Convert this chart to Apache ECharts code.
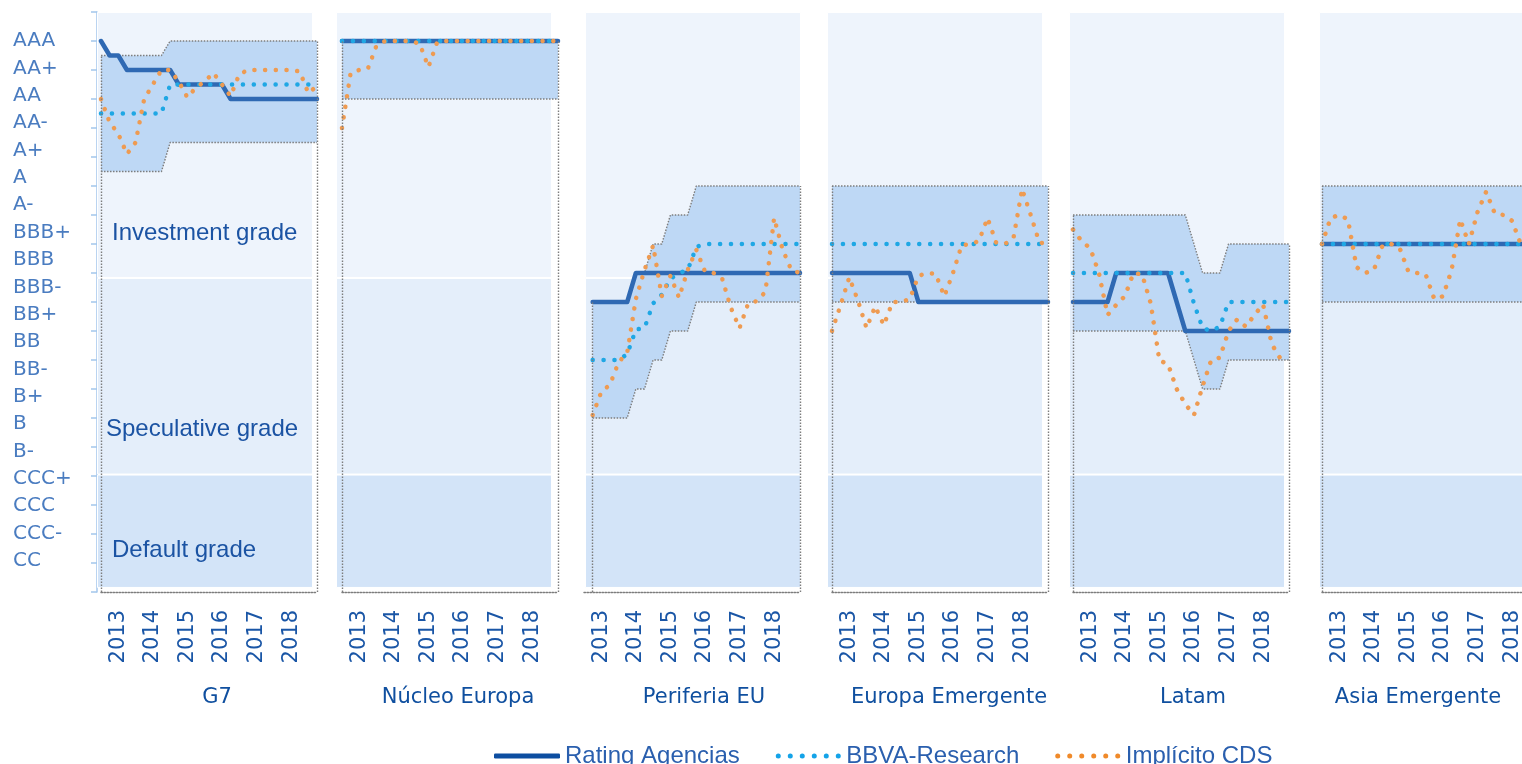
<!DOCTYPE html>
<html>
<head>
<meta charset="utf-8">
<script src="https://cdn.jsdelivr.net/npm/echarts@6/dist/echarts.min.js"></script>
<style>
html, body { margin: 0; padding: 0; background: #fff; }
#chart { width: 1522px; height: 764px; }
</style>
</head>
<body>
<div id="chart"></div>
<script>
// escala de rating (AAA arriba) y trimestres
const ratingLabels = ['AAA', 'AA+', 'AA', 'AA-', 'A+', 'A', 'A-', 'BBB+', 'BBB', 'BBB-', 'BB+', 'BB', 'BB-', 'B+', 'B', 'B-', 'CCC+', 'CCC', 'CCC-', 'CC'];
const quarters = ['2012Q3', '2012Q4',
  '2013Q1', '2013Q2', '2013Q3', '2013Q4', '2014Q1', '2014Q2', '2014Q3', '2014Q4',
  '2015Q1', '2015Q2', '2015Q3', '2015Q4', '2016Q1', '2016Q2', '2016Q3', '2016Q4',
  '2017Q1', '2017Q2', '2017Q3', '2017Q4', '2018Q1', '2018Q2', '2018Q3', '2018Q4'];
const panelNames = ['G7', 'Núcleo Europa', 'Periferia EU', 'Europa Emergente', 'Latam', 'Asia Emergente'];

// zonas de fondo: default / speculative / investment (en escala 0-20)
const zoneEdges = [0.14, 4.05, 10.83, 20];
const zoneColors = ['#d3e4f8', '#e4eefa', '#eef4fc'];

// G7
const g7Rating = [19, 18.5, 18.5, 18, 18, 18, 18, 18, 18, 17.5, 17.5, 17.5, 17.5, 17.5, 17.5, 17, 17, 17, 17, 17, 17, 17, 17, 17, 17, 17];
const g7Bbva = [16.5, 16.5, 16.5, 16.5, 16.5, 16.5, 16.5, 16.5, 17.5, 17.5, 17.5, 17.5, 17.5, 17.5, 17.5, 17.5, 17.5, 17.5, 17.5, 17.5, 17.5, 17.5, 17.5, 17.5, 17.5, 17.5];
const g7Cds = [17.0, 16.2, 15.8, 15.1, 15.5, 17.0, 17.5, 18.0, 18.0, 17.6, 17.05, 17.4, 17.6, 17.9, 17.5, 17.1, 17.85, 18.0, 18.0, 18.0, 18.0, 18.0, 18.0, 17.95, 17.2, 17.45];
const g7Min = [14.5, 14.5, 14.5, 14.5, 14.5, 14.5, 14.5, 14.5, 15.5, 15.5, 15.5, 15.5, 15.5, 15.5, 15.5, 15.5, 15.5, 15.5, 15.5, 15.5, 15.5, 15.5, 15.5, 15.5, 15.5, 15.5];
const g7Max = [18.5, 18.5, 18.5, 18.5, 18.5, 18.5, 18.5, 18.5, 19, 19, 19, 19, 19, 19, 19, 19, 19, 19, 19, 19, 19, 19, 19, 19, 19, 19];

// Núcleo Europa
const neRating = [19, 19, 19, 19, 19, 19, 19, 19, 19, 19, 19, 19, 19, 19, 19, 19, 19, 19, 19, 19, 19, 19, 19, 19, 19, 19];
const neBbva = [19, 19, 19, 19, 19, 19, 19, 19, 19, 19, 19, 19, 19, 19, 19, 19, 19, 19, 19, 19, 19, 19, 19, 19, 19, 19];
const neCds = [16.0, 17.9, 18.0, 18.05, 18.85, 19, 19, 19, 19, 18.9, 18.1, 18.95, 19, 19, 19, 19, 19, 19, 19, 19, 19, 19, 19, 19, 19, 19];
const neMin = [17, 17, 17, 17, 17, 17, 17, 17, 17, 17, 17, 17, 17, 17, 17, 17, 17, 17, 17, 17, 17, 17, 17, 17, 17, 17];
const neMax = [19, 19, 19, 19, 19, 19, 19, 19, 19, 19, 19, 19, 19, 19, 19, 19, 19, 19, 19, 19, 19, 19, 19, 19, 19, 19];

// Periferia EU (empieza un trimestre más tarde)
const peRating = ['-', 10, 10, 10, 10, 10, 11, 11, 11, 11, 11, 11, 11, 11, 11, 11, 11, 11, 11, 11, 11, 11, 11, 11, 11, 11];
const peBbva = ['-', 8, 8, 8, 8, 8.2, 9.05, 9.1, 9.95, 10.25, 10.8, 11.0, 11.1, 11.9, 12, 12, 12, 12, 12, 12, 12, 12, 12, 12, 12, 12];
const peCds = ['-', 6.1, 6.9, 7.15, 7.92, 8.25, 10.1, 11.1, 11.95, 10.2, 10.9, 10.15, 11.1, 11.8, 11.05, 11.0, 10.8, 9.8, 9.1, 9.95, 10.03, 10.35, 12.9, 11.8, 11.1, 11.0];
const peMin = ['-', 6, 6, 6, 6, 6, 7, 7, 8, 8, 9, 9, 9, 10, 10, 10, 10, 10, 10, 10, 10, 10, 10, 10, 10, 10];
const peMax = ['-', 10, 10, 10, 10, 10, 11, 11, 12, 12, 13, 13, 13, 14, 14, 14, 14, 14, 14, 14, 14, 14, 14, 14, 14, 14];

// Europa Emergente
const eeRating = [11, 11, 11, 11, 11, 11, 11, 11, 11, 11, 10, 10, 10, 10, 10, 10, 10, 10, 10, 10, 10, 10, 10, 10, 10, 10];
const eeBbva = [12, 12, 12, 12, 12, 12, 12, 12, 12, 12, 12, 12, 12, 12, 12, 12, 12, 12, 12, 12, 12, 12, 12, 12, 12, 12];
const eeCds = [9.0, 9.9, 10.85, 10.05, 9.1, 9.85, 9.2, 10.0, 10.0, 10.1, 10.9, 11.0, 10.97, 10.2, 11.0, 11.95, 12.0, 12.1, 12.9, 12.05, 12.0, 12.2, 13.9, 13.0, 12.05, 12.0];
const eeMin = [10, 10, 10, 10, 10, 10, 10, 10, 10, 10, 10, 10, 10, 10, 10, 10, 10, 10, 10, 10, 10, 10, 10, 10, 10, 10];
const eeMax = [14, 14, 14, 14, 14, 14, 14, 14, 14, 14, 14, 14, 14, 14, 14, 14, 14, 14, 14, 14, 14, 14, 14, 14, 14, 14];

// Latam
const laRating = [10, 10, 10, 10, 10, 11, 11, 11, 11, 11, 11, 11, 10, 9, 9, 9, 9, 9, 9, 9, 9, 9, 9, 9, 9, 9];
const laBbva = [11, 11, 11, 11, 11, 11, 11, 11, 11, 11, 11, 11, 11, 11, 9.95, 9.1, 9.0, 9.15, 10, 10, 10, 10, 10, 10, 10, 10];
const laCds = [12.5, 12.1, 11.85, 11.0, 9.55, 9.9, 10.2, 11.0, 10.95, 9.95, 7.98, 7.86, 7.0, 6.48, 6.1, 7.1, 8.0, 8.08, 9.0, 9.4, 9.15, 9.55, 9.92, 8.55, 8.05, 7.98];
const laMin = [9, 9, 9, 9, 9, 9, 9, 9, 9, 9, 9, 9, 9, 9, 8, 7, 7, 7, 8, 8, 8, 8, 8, 8, 8, 8];
const laMax = [13, 13, 13, 13, 13, 13, 13, 13, 13, 13, 13, 13, 13, 13, 12, 11, 11, 11, 12, 12, 12, 12, 12, 12, 12, 12];

// Asia Emergente
const aeRating = [12, 12, 12, 12, 12, 12, 12, 12, 12, 12, 12, 12, 12, 12, 12, 12, 12, 12, 12, 12, 12, 12, 12, 12, 12, 12];
const aeBbva = [12, 12, 12, 12, 12, 12, 12, 12, 12, 12, 12, 12, 12, 12, 12, 12, 12, 12, 12, 12, 12, 12, 12, 12, 12, 12];
const aeCds = [12.0, 12.9, 13.0, 12.85, 11.2, 11.0, 11.1, 11.95, 12.0, 11.85, 11.05, 11.0, 10.95, 10.1, 10.2, 11.1, 12.85, 12.0, 13.1, 13.8, 13.05, 13.0, 12.8, 12.0, 12.0, 12.0];
const aeMin = [10, 10, 10, 10, 10, 10, 10, 10, 10, 10, 10, 10, 10, 10, 10, 10, 10, 10, 10, 10, 10, 10, 10, 10, 10, 10];
const aeMax = [14, 14, 14, 14, 14, 14, 14, 14, 14, 14, 14, 14, 14, 14, 14, 14, 14, 14, 14, 14, 14, 14, 14, 14, 14, 14];

const panels = [
  { rating: g7Rating, bbva: g7Bbva, cds: g7Cds, min: g7Min, max: g7Max },
  { rating: neRating, bbva: neBbva, cds: neCds, min: neMin, max: neMax },
  { rating: peRating, bbva: peBbva, cds: peCds, min: peMin, max: peMax },
  { rating: eeRating, bbva: eeBbva, cds: eeCds, min: eeMin, max: eeMax },
  { rating: laRating, bbva: laBbva, cds: laCds, min: laMin, max: laMax },
  { rating: aeRating, bbva: aeBbva, cds: aeCds, min: aeMin, max: aeMax }
];

// layout
const gridLeft = [101, 342, 584, 832, 1073, 1322];
const bgLeft = [97, 336, 585, 827, 1069, 1319];
const titleX = [217, 458, 704, 949, 1193, 1418];
const PLOT_TOP = 12;
const PLOT_H = 580;
const PLOT_W = 216;

const RATING_COLOR = '#2f69b3';
const BBVA_COLOR = '#1fa7e4';
const CDS_COLOR = '#ee9b52';
const dotted = { color: '#7d7d7d', width: 1.4, type: [1.5, 1.5] };
const labelBlue = '#1a56a6';
// iconos de leyenda: barra gruesa y seis puntos
const dotsIcon = 'path://M0,2.5a2.5,2.5 0 1,0 5,0a2.5,2.5 0 1,0 -5,0M12,2.5a2.5,2.5 0 1,0 5,0a2.5,2.5 0 1,0 -5,0M24,2.5a2.5,2.5 0 1,0 5,0a2.5,2.5 0 1,0 -5,0M36,2.5a2.5,2.5 0 1,0 5,0a2.5,2.5 0 1,0 -5,0M48,2.5a2.5,2.5 0 1,0 5,0a2.5,2.5 0 1,0 -5,0M60,2.5a2.5,2.5 0 1,0 5,0a2.5,2.5 0 1,0 -5,0';

const grids = [{ left: 13, top: 41, width: 10, height: 520, outerBoundsMode: 'none' }];
const xAxes = [{ gridIndex: 0, type: 'value', show: false }];
const yAxes = [{
  gridIndex: 0, type: 'category', data: ratingLabels, inverse: true, boundaryGap: false,
  axisLine: { show: false }, axisTick: { show: false }, splitLine: { show: false },
  axisLabel: { align: 'left', margin: 0, color: '#4a7cc0', fontSize: 20, fontFamily: 'DejaVu Sans' }
}];
const series = [];

// fondos por panel (barras apiladas)
panels.forEach((p, i) => {
  const gi = grids.length;
  grids.push({ left: bgLeft[i], top: PLOT_TOP, width: PLOT_W, height: PLOT_H, outerBoundsMode: 'none' });
  xAxes.push({ gridIndex: gi, type: 'category', data: [''], show: false });
  yAxes.push({ gridIndex: gi, type: 'value', min: 0, max: 20, show: false });
  series.push({
    type: 'bar', xAxisIndex: gi, yAxisIndex: gi, stack: 'zone' + i, barWidth: '100%', silent: true,
    data: [zoneEdges[0]], itemStyle: { color: 'rgba(0,0,0,0)' }
  });
  for (let z = 1; z < zoneEdges.length; z++) {
    series.push({
      type: 'bar', xAxisIndex: gi, yAxisIndex: gi, stack: 'zone' + i, barWidth: '100%', silent: true,
      data: [+(zoneEdges[z] - zoneEdges[z - 1]).toFixed(2)],
      itemStyle: { color: zoneColors[z - 1], borderColor: '#ffffff', borderWidth: 1 }
    });
  }
});

// paneles de datos
panels.forEach((p, i) => {
  const gi = grids.length;
  grids.push({ left: gridLeft[i], top: PLOT_TOP, width: PLOT_W, height: PLOT_H, outerBoundsMode: 'none' });
  xAxes.push({
    gridIndex: gi, type: 'category', data: quarters, boundaryGap: false,
    axisLine: { show: true, lineStyle: dotted },
    axisTick: { show: false },
    splitLine: { show: false },
    axisLabel: {
      interval: (idx, val) => val.endsWith('Q1'),
      formatter: (val) => val.slice(0, 4),
      rotate: 90, margin: 18, color: labelBlue, fontSize: 21, fontFamily: 'DejaVu Sans'
    }
  });
  yAxes.push({
    gridIndex: gi, type: 'value', min: 0, max: 20, interval: 1,
    offset: 4,
    axisLine: { show: i === 0, lineStyle: { color: '#a3c6ec', width: 1.5 } },
    axisTick: { show: i === 0, length: 6, lineStyle: { color: '#a3c6ec', width: 1.5 } },
    axisLabel: { show: false },
    splitLine: { show: false }
  });

  const first = p.min.findIndex(v => v !== '-');
  const last = p.min.length - 1;
  const width = p.max.map((v, k) => (v === '-' ? '-' : +(v - p.min[k]).toFixed(2)));

  series.push({
    name: 'min', type: 'line', xAxisIndex: gi, yAxisIndex: gi, stack: 'band' + i,
    data: p.min, symbol: 'none', silent: true, lineStyle: dotted,
    markLine: {
      silent: true, symbol: 'none', label: { show: false }, lineStyle: dotted,
      data: [
        [{ coord: [quarters[first], 0] }, { coord: [quarters[first], p.max[first]] }],
        [{ coord: [quarters[last], 0] }, { coord: [quarters[last], p.max[last]] }]
      ]
    }
  });
  series.push({
    name: 'rango', type: 'line', xAxisIndex: gi, yAxisIndex: gi, stack: 'band' + i,
    data: width, symbol: 'none', silent: true, lineStyle: dotted,
    areaStyle: { color: '#bed8f5', opacity: 1 }
  });
  series.push({
    name: 'Rating Agencias', type: 'line', xAxisIndex: gi, yAxisIndex: gi,
    data: p.rating, symbol: 'none', itemStyle: { color: RATING_COLOR },
    lineStyle: { color: RATING_COLOR, width: 4.5, cap: 'round', join: 'round' }
  });
  series.push({
    name: 'BBVA-Research', type: 'line', xAxisIndex: gi, yAxisIndex: gi,
    data: p.bbva, symbol: 'none', itemStyle: { color: BBVA_COLOR },
    lineStyle: { color: BBVA_COLOR, width: 4.5, type: [0.1, 10.8], cap: 'round' }
  });
  series.push({
    name: 'Implícito CDS', type: 'line', xAxisIndex: gi, yAxisIndex: gi,
    data: p.cds, symbol: 'none', itemStyle: { color: CDS_COLOR },
    lineStyle: { color: CDS_COLOR, width: 4.5, type: [0.1, 10.6], cap: 'round' }
  });
});

const graphics = panelNames.map((n, i) => ({
  type: 'text', x: titleX[i], y: 698, silent: true, z: 100,
  style: { text: n, fill: '#0f4f9f', font: '21px "DejaVu Sans"', textAlign: 'center', textVerticalAlign: 'middle' }
}));
[['Investment grade', 112, 233], ['Speculative grade', 106, 429], ['Default grade', 112, 550]].forEach(t => {
  graphics.push({
    type: 'text', x: t[1], y: t[2], silent: true, z: 100,
    style: { text: t[0], fill: '#1b53a3', font: '24px "Liberation Sans"', textAlign: 'left', textVerticalAlign: 'middle' }
  });
});

const chart = echarts.init(document.getElementById('chart'), null, { renderer: 'canvas' });
chart.setOption({
  animation: false,
  backgroundColor: '#ffffff',
  grid: grids,
  xAxis: xAxes,
  yAxis: yAxes,
  legend: {
    data: [
      { name: 'Rating Agencias', icon: 'roundRect', itemStyle: { color: '#0d4ea1' } },
      { name: 'BBVA-Research', icon: dotsIcon, itemStyle: { color: '#14a3e8' } },
      { name: 'Implícito CDS', icon: dotsIcon, itemStyle: { color: '#f08a2a' } }
    ],
    left: 494, top: 744, padding: 0,
    itemWidth: 66, itemHeight: 5, itemGap: 36,
    textStyle: { color: '#2a5fae', fontSize: 24, fontFamily: 'Liberation Sans' }
  },
  tooltip: { show: false },
  graphic: { elements: graphics },
  series: series
});
</script>
</body>
</html>
